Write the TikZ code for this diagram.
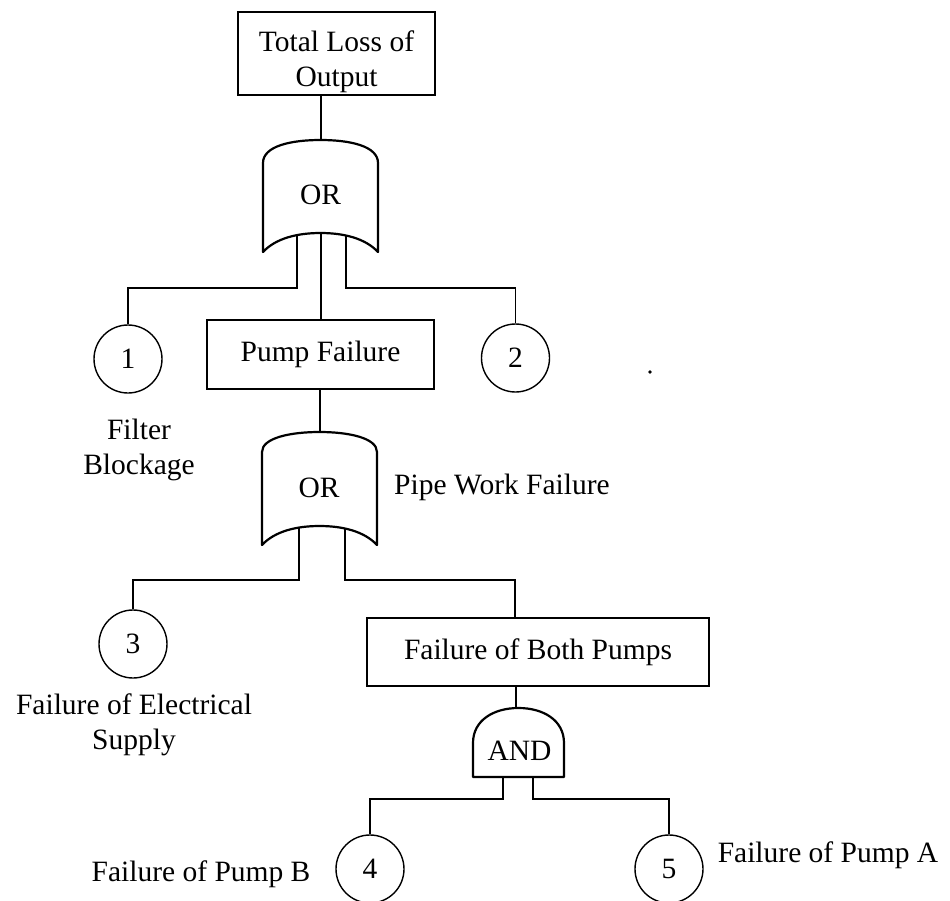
\documentclass[tikz,border=0pt]{standalone}
\usepackage{fontspec}
\setmainfont{Liberation Serif}
\begin{document}
\begin{tikzpicture}[x=0.5pt,y=-0.5pt,
  every node/.style={font=\fontsize{14.75}{17.5}\selectfont},
  event/.style={draw, line width=0.7pt, inner sep=0pt, align=center},
  basic/.style={draw, circle, line width=0.7pt, minimum size=34pt, inner sep=0pt},
  lbl/.style={align=center, inner sep=0pt},
  wire/.style={line width=0.75pt},
  gateline/.style={line width=1.1pt, line join=round}]
\useasboundingbox (0,0) rectangle (950,901);
% events
\node[event, minimum width=98.5pt, minimum height=41.5pt] (top) at (336.5,53.5)
  {\raisebox{-4pt}[\height][\depth]{\begin{tabular}{@{}c@{}}Total Loss of\\Output\end{tabular}}};
\node[event, minimum width=113.5pt, minimum height=34.5pt] (pump) at (320.5,354.5) {Pump Failure};
\node[event, minimum width=171pt, minimum height=34pt] (both) at (538,652) {Failure of Both Pumps};
% basic events
\node[basic] (c1) at (128,359) {1};
\node[basic] (c2) at (515.5,358) {2};
\node[basic] (c3) at (133,644) {3};
\node[basic] (c4) at (370,869) {4};
\node[basic] (c5) at (669,869) {5};
\node[lbl] (filter) at (139,450) {Filter\\Blockage};
\node[lbl] (pipe) at (502,487) {Pipe Work Failure};
\node[lbl] (elec) at (134,725) {Failure of Electrical\\Supply};
\node[lbl] (pumpb) at (201,874) {Failure of Pump B};
\node[lbl] (pumpa) at (828,855) {Failure of Pump A};
% gates
\draw[gateline] (263,163) -- (263,252) .. controls (276,238) and (298,233) .. (320.5,233)
  .. controls (343,233) and (365,238) .. (378,252) -- (378,163)
  .. controls (378,146) and (350,140) .. (320.5,140) .. controls (291,140) and (263,146) .. cycle;
\node[lbl] (or1) at (320.5,195) {OR};
\draw[gateline] (262,452) -- (262,545) .. controls (275,531) and (297,526) .. (319.5,526)
  .. controls (342,526) and (364,531) .. (377,545) -- (377,452)
  .. controls (377,438) and (349,432) .. (319.5,432) .. controls (290,432) and (262,438) .. cycle;
\node[lbl] (or2) at (319,488) {OR};
\draw[gateline] (473,777) -- (473,743) .. controls (473,720) and (494,708) .. (518.5,708)
  .. controls (543,708) and (564,720) .. (564,743) -- (564,777) -- cycle;
\node[lbl] (and) at (519.5,751) {AND};
% gate ends
\coordinate (g1top) at (321,140);
\coordinate (g1l) at (297,235);
\coordinate (g1c) at (321,233);
\coordinate (g1r) at (346,235);
\coordinate (b1l) at (128,288);
\coordinate (b1r) at (515.5,288);
\coordinate (g2top) at (320,432);
\coordinate (g2l) at (299,528);
\coordinate (g2r) at (345,528);
\coordinate (b2l) at (133,580);
\coordinate (b2r) at (515,580);
\coordinate (atop) at (516,708);
\coordinate (al) at (503,777);
\coordinate (ar) at (533,777);
\coordinate (b3l) at (370,799);
\coordinate (b3r) at (669,799);
% connectors
\draw[wire] (top.south -| g1top) -- (g1top);
\draw[wire] (g1l) |- (b1l) -- (c1);
\draw[wire] (g1c) -- (pump.north -| g1c);
\draw[wire] (g1r) |- (b1r) -- (c2);
\draw[wire] (pump.south -| g2top) -- (g2top);
\draw[wire] (g2l) |- (b2l) -- (c3);
\draw[wire] (g2r) |- (b2r) -- (both.north -| b2r);
\draw[wire] (both.south -| atop) -- (atop);
\draw[wire] (al) |- (b3l) -- (c4);
\draw[wire] (ar) |- (b3r) -- (c5);
\fill (650,372) circle (0.9pt);
\end{tikzpicture}
\end{document}
